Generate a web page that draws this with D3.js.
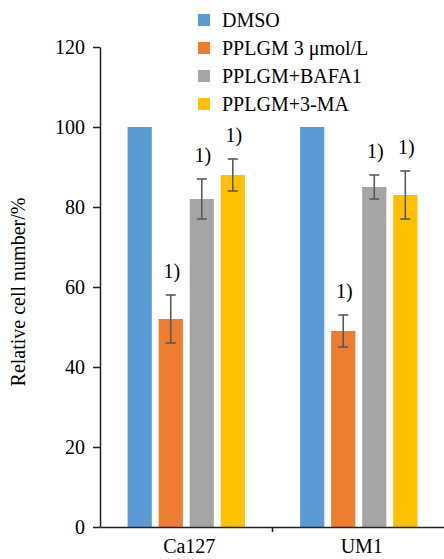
<!DOCTYPE html>
<html><head><meta charset="utf-8"><script src="https://cdn.jsdelivr.net/npm/d3@7"></script></head>
<body style="margin:0">
<svg id="fig" width="444" height="559"></svg>
<script>
const categories = ["Ca127", "UM1"];
const seriesNames = ["DMSO", "PPLGM 3 μmol/L", "PPLGM+BAFA1", "PPLGM+3-MA"];
const seriesColors = ["#5B9BD5", "#ED7D31", "#A5A5A5", "#FFC000"];
// values per category, in series order
const valuesCa127 = [100, 52, 82, 88];
const valuesUM1   = [100, 49, 85, 83];
const errorsCa127 = [0, 6, 5, 4];
const errorsUM1   = [0, 4, 3, 6];
const sigCa127 = ["", "1)", "1)", "1)"];
const sigUM1   = ["", "1)", "1)", "1)"];
const yTicks = [0, 20, 40, 60, 80, 100, 120];
const yLabel = "Relative cell number/%";

const valueTable = { Ca127: valuesCa127, UM1: valuesUM1 };
const errorTable = { Ca127: errorsCa127, UM1: errorsUM1 };
const sigTable = { Ca127: sigCa127, UM1: sigUM1 };

const FONT = "Liberation Serif";

const svg = d3.select("#fig");
const axisX = 100, axisBottom = 527, axisTop = 47, axisRight = 445;

const y = d3.scaleLinear().domain([0, 120]).range([axisBottom, axisTop]);
const x0 = d3.scaleBand().domain(categories).range([axisX, axisRight])
  .paddingInner(0.32).paddingOuter(0.16);
const x1 = d3.scaleBand().domain(seriesNames).range([0, x0.bandwidth()])
  .paddingInner(0.22).paddingOuter(0);
const color = d3.scaleOrdinal().domain(seriesNames).range(seriesColors);

const rows = [];
categories.forEach(c => {
  seriesNames.forEach((s, i) => {
    rows.push({ cat: c, series: s, value: valueTable[c][i], err: errorTable[c][i], sig: sigTable[c][i] });
  });
});

// bars
svg.append("g").selectAll("rect").data(rows).join("rect")
  .attr("x", d => x0(d.cat) + x1(d.series))
  .attr("y", d => y(d.value))
  .attr("width", x1.bandwidth())
  .attr("height", d => y(0) - y(d.value))
  .attr("fill", d => color(d.series));

// error bars
const eb = svg.append("g").attr("stroke", "#595959").attr("stroke-width", 1.6);
rows.filter(d => d.err > 0).forEach(d => {
  const cx = x0(d.cat) + x1(d.series) + x1.bandwidth() / 2;
  eb.append("line").attr("x1", cx).attr("x2", cx).attr("y1", y(d.value + d.err)).attr("y2", y(d.value - d.err));
  eb.append("line").attr("x1", cx - 5).attr("x2", cx + 5).attr("y1", y(d.value + d.err)).attr("y2", y(d.value + d.err));
  eb.append("line").attr("x1", cx - 5).attr("x2", cx + 5).attr("y1", y(d.value - d.err)).attr("y2", y(d.value - d.err));
});

// significance labels
svg.append("g").selectAll("text").data(rows.filter(d => d.sig)).join("text")
  .attr("x", d => x0(d.cat) + x1(d.series) + x1.bandwidth() / 2 + 1)
  .attr("y", d => y(d.value + d.err) - 17)
  .attr("text-anchor", "middle")
  .style("font-family", FONT)
  .style("font-size", "20px")
  .text(d => d.sig);

// y axis
const yAxis = d3.axisLeft(y).tickValues(yTicks).tickSize(7).tickPadding(8).tickSizeOuter(0);
const gy = svg.append("g").attr("transform", `translate(${axisX},0)`).call(yAxis);
gy.select(".domain").attr("stroke", "#222").attr("stroke-width", 1.5);
gy.selectAll(".tick line").attr("stroke", "#222").attr("stroke-width", 1.5);
gy.selectAll(".tick text").style("font-family", FONT).style("font-size", "20px").attr("fill", "#000");

// x axis: line with ticks between categories
const xAxis = d3.axisBottom(x0).tickSize(0).tickPadding(12).tickSizeOuter(0);
const gx = svg.append("g").attr("transform", `translate(0,${axisBottom})`).call(xAxis);
gx.select(".domain").attr("stroke", "#222").attr("stroke-width", 1.5);
gx.selectAll(".tick text").style("font-family", FONT).style("font-size", "20px").attr("fill", "#000").attr("dx", 3);
const step = x0.step();
const boundaries = categories.slice(1).map(c => x0(c) - step * x0.paddingInner() / 2);
gx.selectAll(".sep").data(boundaries).join("line").attr("class", "sep")
  .attr("x1", d => d).attr("x2", d => d).attr("y1", 0).attr("y2", 5)
  .attr("stroke", "#222").attr("stroke-width", 1.5);

// y label
svg.append("text")
  .attr("transform", "translate(25,292) rotate(-90)")
  .attr("text-anchor", "middle")
  .style("font-family", FONT)
  .style("font-size", "20px")
  .text(yLabel);

// legend
const legend = svg.append("g").selectAll("g").data(seriesNames).join("g")
  .attr("transform", (d, i) => `translate(198,${20 + i * 28})`);
legend.append("rect").attr("x", 0).attr("y", -6).attr("width", 12).attr("height", 12)
  .attr("fill", d => color(d));
legend.append("text").attr("x", 24).attr("y", 7)
  .attr("font-family", FONT).attr("font-size", 20)
  .style("font-family", FONT).style("font-size", "20px").text(d => d);
</script>
</body>
</html>
